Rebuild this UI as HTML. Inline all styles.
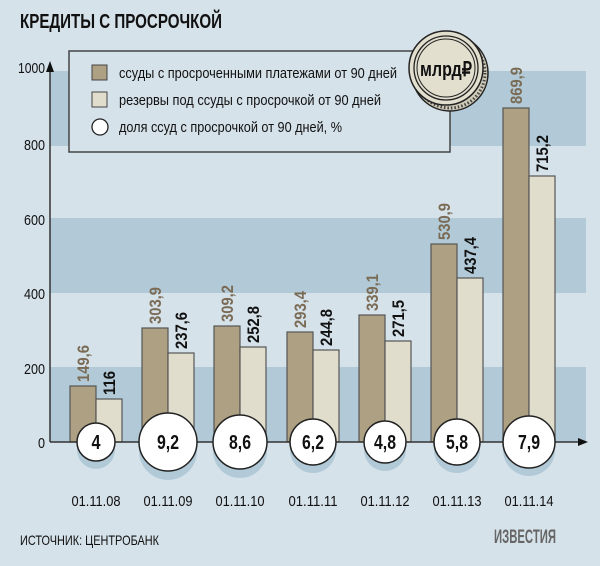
<!DOCTYPE html>
<html><head><meta charset="utf-8"><style>
body{margin:0;background:#d6e2ea;}
svg{display:block}
text{font-family:"Liberation Sans",sans-serif;}
</style></head><body>
<svg width="600" height="566" viewBox="0 0 600 566">
<rect width="600" height="566" fill="#d6e2ea"/>
<text x="20" y="28" font-size="20" font-weight="bold" fill="#111" textLength="202" lengthAdjust="spacingAndGlyphs">КРЕДИТЫ С ПРОСРОЧКОЙ</text>
<!-- bands -->
<rect x="50" y="367" width="536" height="75" fill="#b2cad7"/>
<rect x="50" y="218" width="536" height="75" fill="#b2cad7"/>
<rect x="50" y="71" width="536" height="75" fill="#b2cad7"/>
<!-- y labels -->
<g font-size="15" fill="#111" text-anchor="end" lengthAdjust="spacingAndGlyphs">
<text x="45" y="73" textLength="27" lengthAdjust="spacingAndGlyphs">1000</text>
<text x="45" y="150" textLength="21" lengthAdjust="spacingAndGlyphs">800</text>
<text x="45" y="225" textLength="21" lengthAdjust="spacingAndGlyphs">600</text>
<text x="45" y="299" textLength="21" lengthAdjust="spacingAndGlyphs">400</text>
<text x="45" y="374" textLength="21" lengthAdjust="spacingAndGlyphs">200</text>
<text x="45" y="448" textLength="7" lengthAdjust="spacingAndGlyphs">0</text>
</g>
<!-- bars -->
<g stroke="#555" stroke-width="1.2">
<rect x="70" y="386" width="26" height="56" fill="#ada083"/><rect x="96" y="399" width="26" height="43" fill="#e0ddcc"/>
<rect x="142" y="328" width="26" height="114" fill="#ada083"/><rect x="168" y="353" width="26" height="89" fill="#e0ddcc"/>
<rect x="214" y="326" width="26" height="116" fill="#ada083"/><rect x="240" y="347" width="26" height="95" fill="#e0ddcc"/>
<rect x="287" y="332" width="26" height="110" fill="#ada083"/><rect x="313" y="350" width="26" height="92" fill="#e0ddcc"/>
<rect x="359" y="315" width="26" height="127" fill="#ada083"/><rect x="385" y="341" width="26" height="101" fill="#e0ddcc"/>
<rect x="431" y="244" width="26" height="198" fill="#ada083"/><rect x="457" y="278" width="26" height="164" fill="#e0ddcc"/>
<rect x="503" y="108" width="26" height="334" fill="#ada083"/><rect x="529" y="176" width="26" height="266" fill="#e0ddcc"/>
</g>
<!-- value labels -->
<g font-size="17" font-weight="bold">
<g fill="#7a6b55">
<text transform="translate(89,382) rotate(-90)" textLength="37" lengthAdjust="spacingAndGlyphs">149,6</text>
<text transform="translate(161,324) rotate(-90)" textLength="37" lengthAdjust="spacingAndGlyphs">303,9</text>
<text transform="translate(233,322) rotate(-90)" textLength="37" lengthAdjust="spacingAndGlyphs">309,2</text>
<text transform="translate(306,328) rotate(-90)" textLength="37" lengthAdjust="spacingAndGlyphs">293,4</text>
<text transform="translate(378,311) rotate(-90)" textLength="37" lengthAdjust="spacingAndGlyphs">339,1</text>
<text transform="translate(450,240) rotate(-90)" textLength="37" lengthAdjust="spacingAndGlyphs">530,9</text>
<text transform="translate(522,104) rotate(-90)" textLength="37" lengthAdjust="spacingAndGlyphs">869,9</text>
</g>
<g fill="#111">
<text transform="translate(115,395) rotate(-90)" textLength="24" lengthAdjust="spacingAndGlyphs">116</text>
<text transform="translate(187,349) rotate(-90)" textLength="37" lengthAdjust="spacingAndGlyphs">237,6</text>
<text transform="translate(259,343) rotate(-90)" textLength="37" lengthAdjust="spacingAndGlyphs">252,8</text>
<text transform="translate(332,346) rotate(-90)" textLength="37" lengthAdjust="spacingAndGlyphs">244,8</text>
<text transform="translate(404,337) rotate(-90)" textLength="37" lengthAdjust="spacingAndGlyphs">271,5</text>
<text transform="translate(476,274) rotate(-90)" textLength="37" lengthAdjust="spacingAndGlyphs">437,4</text>
<text transform="translate(548,172) rotate(-90)" textLength="37" lengthAdjust="spacingAndGlyphs">715,2</text>
</g>
</g>
<!-- axes -->
<line x1="50" y1="442" x2="580" y2="442" stroke="#333" stroke-width="1.5"/>
<polygon points="578,438 588,442 578,446" fill="#111"/>
<line x1="50" y1="442" x2="50" y2="70" stroke="#333" stroke-width="1.5"/>
<polygon points="46,72 50,61 54,72" fill="#111"/>
<!-- circles -->
<g fill="#b2cad7">
<circle cx="96" cy="450" r="19"/><circle cx="168" cy="451" r="29"/><circle cx="240" cy="451" r="27"/>
<circle cx="313" cy="450" r="23"/><circle cx="385" cy="450" r="21"/><circle cx="457" cy="450" r="23"/><circle cx="529" cy="450" r="26"/>
</g>
<g fill="#fff" stroke="#222" stroke-width="1.5">
<circle cx="96" cy="442" r="19"/><circle cx="168" cy="442" r="29"/><circle cx="240" cy="442" r="27"/>
<circle cx="313" cy="442" r="23"/><circle cx="385" cy="442" r="21"/><circle cx="457" cy="442" r="23"/><circle cx="529" cy="442" r="26"/>
</g>
<g font-size="20" font-weight="bold" fill="#111" text-anchor="middle">
<text x="96" y="449" textLength="9" lengthAdjust="spacingAndGlyphs">4</text>
<text x="168" y="449" textLength="22" lengthAdjust="spacingAndGlyphs">9,2</text>
<text x="240" y="449" textLength="22" lengthAdjust="spacingAndGlyphs">8,6</text>
<text x="313" y="449" textLength="22" lengthAdjust="spacingAndGlyphs">6,2</text>
<text x="385" y="449" textLength="22" lengthAdjust="spacingAndGlyphs">4,8</text>
<text x="457" y="449" textLength="22" lengthAdjust="spacingAndGlyphs">5,8</text>
<text x="529" y="449" textLength="22" lengthAdjust="spacingAndGlyphs">7,9</text>
</g>
<!-- dates -->
<g font-size="15" fill="#111" text-anchor="middle">
<text x="96" y="506" textLength="49" lengthAdjust="spacingAndGlyphs">01.11.08</text>
<text x="168" y="506" textLength="49" lengthAdjust="spacingAndGlyphs">01.11.09</text>
<text x="240" y="506" textLength="49" lengthAdjust="spacingAndGlyphs">01.11.10</text>
<text x="313" y="506" textLength="49" lengthAdjust="spacingAndGlyphs">01.11.11</text>
<text x="385" y="506" textLength="49" lengthAdjust="spacingAndGlyphs">01.11.12</text>
<text x="457" y="506" textLength="49" lengthAdjust="spacingAndGlyphs">01.11.13</text>
<text x="529" y="506" textLength="49" lengthAdjust="spacingAndGlyphs">01.11.14</text>
</g>
<text x="20" y="545" font-size="14" fill="#111" textLength="139" lengthAdjust="spacingAndGlyphs">ИСТОЧНИК: ЦЕНТРОБАНК</text>
<text x="525" y="543" font-size="19" font-weight="bold" fill="#666" text-anchor="middle" textLength="62" lengthAdjust="spacingAndGlyphs">ИЗВЕСТИЯ</text>
<!-- legend -->
<rect x="69" y="51" width="381" height="101" fill="#d6e2ea" stroke="#444" stroke-width="1.5"/>
<rect x="92" y="65" width="15" height="15" fill="#ada083" stroke="#444"/>
<rect x="92" y="92" width="15" height="15" fill="#e0ddcc" stroke="#444"/>
<circle cx="100" cy="127" r="8" fill="#fff" stroke="#222" stroke-width="1.3"/>
<g font-size="15" fill="#111">
<text x="119" y="78" textLength="278" lengthAdjust="spacingAndGlyphs">ссуды с просроченными платежами от 90 дней</text>
<text x="119" y="105" textLength="262" lengthAdjust="spacingAndGlyphs">резервы под ссуды с просрочкой от 90 дней</text>
<text x="119" y="132" textLength="223" lengthAdjust="spacingAndGlyphs">доля ссуд с просрочкой от 90 дней, %</text>
</g>
<!-- coin -->
<circle cx="450" cy="73" r="38" fill="#cfcbb8" stroke="#222" stroke-width="1.5"/>
<circle cx="450" cy="73" r="35" fill="none" stroke="#444" stroke-width="3" stroke-dasharray="1.5 2"/>
<circle cx="446" cy="68" r="37" fill="#e2dfcf" stroke="#222" stroke-width="1.5"/>
<circle cx="446" cy="68" r="32" fill="none" stroke="#222" stroke-width="1.3"/>
<circle cx="446" cy="68" r="29" fill="none" stroke="#222" stroke-width="1"/>
<text x="446" y="76" font-size="20" font-weight="bold" fill="#111" text-anchor="middle" textLength="52" lengthAdjust="spacingAndGlyphs">млрд₽</text>
</svg>
</body></html>
